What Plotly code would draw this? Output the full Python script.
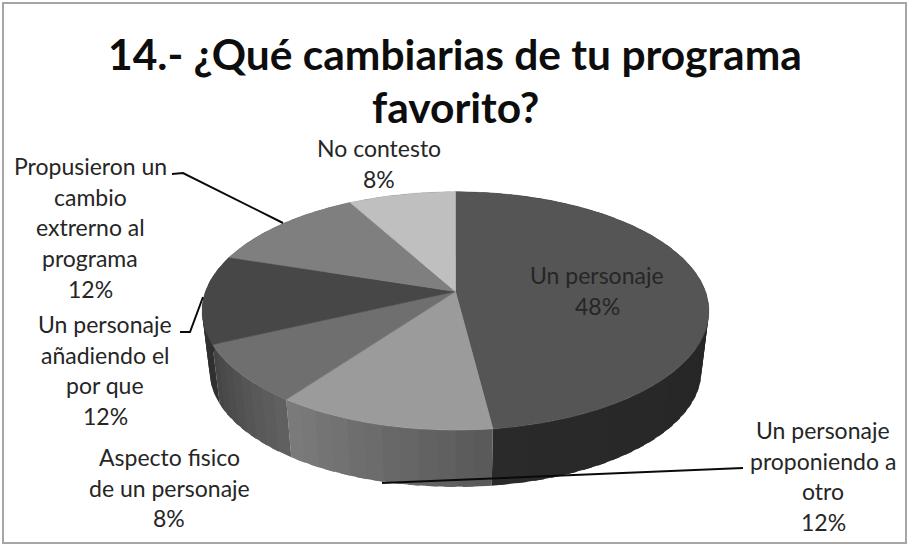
import math
import plotly.graph_objects as go

# Survey results, clockwise from the top of the pie
categories = [
    ["Un personaje"],
    ["Un personaje", "proponiendo a", "otro"],
    ["Aspecto fisico", "de un personaje"],
    ["Un personaje", "añadiendo el", "por que"],
    ["Propusieron un", "cambio", "extrerno al", "programa"],
    ["No contesto"],
]
values = [48, 12, 8, 12, 12, 8]
title_lines = ["14.- ¿Qué cambiarias de tu programa", "favorito?"]

# Per-slice styling
top_colors = ["#555555", "#9b9b9b", "#6f6f6f", "#474747", "#7f7f7f", "#bfbfbf"]
wall_shades = [(0x20, 0x2a), (0x58, 0x7c), (0x62, 0x44), (0x30, 0x30), (0x50, 0x50), (0x70, 0x70)]
label_centers = [(597, 275), (823, 430), (169, 457), (105, 324), (90, 166), (379, 148)]
label_step = 30.7

# Projection of the disc onto the page
CX, CY, RX, RY, PERSP = 455.5, 291.5, 250, 116, 0.163
WALL_SCALE, WALL_DROP = 0.97, 61


def project(theta, radius=1.0, scale=1.0, drop=0.0):
    u, v = radius * math.sin(theta), -radius * math.cos(theta)
    d = 1 - PERSP * v
    return CX + scale * RX * u / d, CY + drop + scale * RY * v / d


def polygon(points, color, line=0.6):
    xs, ys = zip(*points)
    return go.Scatter(
        x=list(xs) + [xs[0]], y=list(ys) + [ys[0]], mode="lines", fill="toself",
        fillcolor=color, line=dict(color=color, width=line), hoverinfo="skip", showlegend=False,
    )


def grey(level):
    level = int(round(level))
    return f"rgb({level},{level},{level})"


fig = go.Figure()
total = sum(values)
edges = [0.0]
for val in values:
    edges.append(edges[-1] + val / total * 2 * math.pi)

# Outer wall, drawn as thin shaded strips so the gradient shows.
# Each strip reaches past its neighbour so no seams open between them.
for i, val in enumerate(values):
    a0, a1 = edges[i], edges[i + 1]
    strips = max(4, val)
    for s in range(strips):
        t0 = a0 + (a1 - a0) * s / strips
        t1 = a0 + (a1 - a0) * min(s + 1.6, strips) / strips
        tm = a0 + (a1 - a0) * (s + 1) / strips
        shade = wall_shades[i][0] + (wall_shades[i][1] - wall_shades[i][0]) * (s + 0.5) / strips
        fig.add_trace(polygon(
            [project(t0), project(tm), project(t1),
             project(t1, scale=WALL_SCALE, drop=WALL_DROP),
             project(tm, scale=WALL_SCALE, drop=WALL_DROP),
             project(t0, scale=WALL_SCALE, drop=WALL_DROP)],
            grey(shade), line=0,
        ))

# Top face of each slice
for i, val in enumerate(values):
    a0, a1 = edges[i], edges[i + 1]
    steps = max(12, val * 3)
    pts = [project(a0, radius=0.0)]
    pts += [project(a0 + (a1 - a0) * s / steps) for s in range(steps + 1)]
    fig.add_trace(polygon(pts, top_colors[i]))

# Leader lines from the outside labels to their slices
leaders = [
    ([172, 183, 283], [174, 173, 223]),
    ([180, 190, 203], [332, 332, 297]),
    ([382, 743], [483, 468]),
]
for lx, ly in leaders:
    fig.add_trace(go.Scatter(x=lx, y=ly, mode="lines", line=dict(color="#0a0a0a", width=2),
                             hoverinfo="skip", showlegend=False))

# Slice labels, one annotation per text line for the tight leading
annotations = []
for lines, val, (lx, ly) in zip(categories, values, label_centers):
    for n, text in enumerate(lines + [f"{val}%"]):
        annotations.append(dict(
            x=lx, y=ly + n * label_step, text=text, showarrow=False, xanchor="center", yanchor="middle",
            font=dict(family="Lato", size=23, color="#262626"),
        ))

for n, text in enumerate(title_lines):
    annotations.append(dict(
        x=455, y=53 + n * 53, text=text, showarrow=False, xanchor="center", yanchor="middle",
        font=dict(family="Lato", size=42.5, color="#0d0d0d", weight="bold"),
    ))

fig.update_layout(
    width=909, height=546, autosize=False,
    margin=dict(l=0, r=0, t=0, b=0),
    paper_bgcolor="white", plot_bgcolor="white",
    xaxis=dict(range=[0, 909], visible=False, fixedrange=True),
    yaxis=dict(range=[546, 0], visible=False, fixedrange=True),
    annotations=annotations,
    shapes=[dict(type="rect", x0=3, y0=3, x1=906, y1=543,
                 line=dict(color="#a6a6a6", width=2), layer="below")],
    showlegend=False,
)

fig.write_html("out.html", config=dict(displayModeBar=False))
